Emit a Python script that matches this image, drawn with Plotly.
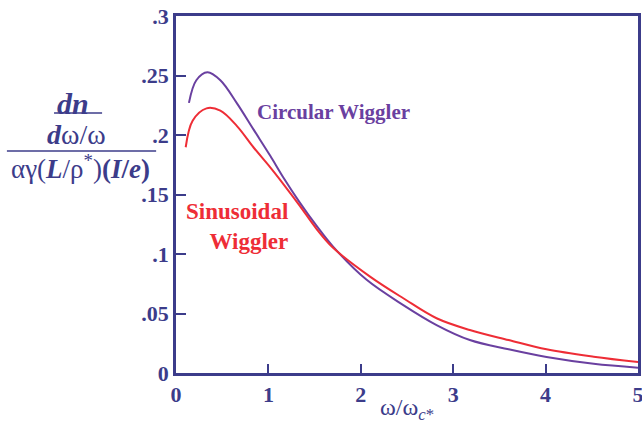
import plotly.graph_objects as go

# Data
x_circ = [0.14, 0.22, 0.34, 0.48, 0.66, 0.84, 1.02, 1.16, 1.34, 1.52, 1.70, 2.06, 2.46, 2.82, 3.18, 3.60, 4.01, 4.52, 5.0]
y_circ = [0.227, 0.246, 0.2527, 0.246, 0.2266, 0.2045, 0.1825, 0.1645, 0.1432, 0.1238, 0.1062, 0.0785, 0.0571, 0.0403, 0.0277, 0.0199, 0.0135, 0.0078, 0.0045]

x_sin = [0.105, 0.18, 0.33, 0.48, 0.66, 0.84, 1.02, 1.16, 1.34, 1.52, 1.70, 2.10, 2.46, 2.82, 3.18, 3.60, 4.01, 4.52, 5.0]
y_sin = [0.1897, 0.212, 0.2224, 0.2205, 0.2075, 0.1895, 0.1728, 0.159, 0.1405, 0.1212, 0.1052, 0.081, 0.0628, 0.046, 0.0361, 0.0277, 0.0199, 0.0137, 0.0092]

y_tickvals = [0, 0.05, 0.1, 0.15, 0.2, 0.25, 0.3]
y_ticktext = ["0", ".05", ".1", ".15", ".2", ".25", ".3"]
x_tickvals = [0, 1, 2, 3, 4, 5]
x_ticktext = ["0", "1", "2", "3", "4", "5"]

AX = "#3c3c8a"
PURPLE = "#6a40a0"
RED = "#ee2d36"
FONT = "Liberation Serif"

fig = go.Figure()
fig.add_trace(go.Scatter(x=x_circ, y=y_circ, mode="lines", line=dict(color=PURPLE, width=2, shape="spline", smoothing=1.0), showlegend=False))
fig.add_trace(go.Scatter(x=x_sin, y=y_sin, mode="lines", line=dict(color=RED, width=2, shape="spline", smoothing=1.0), showlegend=False))

fig.update_layout(
    width=642, height=427,
    margin=dict(l=176, r=4, t=16, b=54, autoexpand=False),
    paper_bgcolor="white", plot_bgcolor="white",
    font=dict(family=FONT, color=AX, size=20),
    xaxis=dict(range=[0, 5], tickvals=x_tickvals, ticktext=x_ticktext, automargin=False,
               ticks="inside", ticklen=9, tickwidth=1.5, tickcolor=AX, ticklabeloverflow="allow",
               showline=True, linecolor=AX, linewidth=2.5, mirror=True,
               showgrid=False, zeroline=False,
               tickfont=dict(family=FONT, size=22, color=AX, weight="bold")),
    yaxis=dict(range=[0, 0.3], tickvals=y_tickvals, ticktext=y_ticktext, automargin=False,
               ticks="inside", ticklen=10, tickwidth=1.5, tickcolor=AX, ticklabeloverflow="allow",
               showline=True, linecolor=AX, linewidth=2.5, mirror=True,
               showgrid=False, zeroline=False,
               tickfont=dict(family=FONT, size=22, color=AX, weight="bold")),
)

# x axis title
fig.add_annotation(xref="paper", yref="paper", x=0.5, y=-0.1, yanchor="middle",
                   text="ω/ω<sub><i>c</i>*</sub>", showarrow=False,
                   font=dict(family=FONT, size=24, color=AX))

# y axis title as a fraction
fig.add_annotation(xref="paper", yref="paper", x=-0.222, y=0.755, xanchor="center", yanchor="middle",
                   text="<b><i>dn</i></b>", showarrow=False, font=dict(family=FONT, size=30, color=AX))
fig.add_annotation(xref="paper", yref="paper", x=-0.215, y=0.667, xanchor="center", yanchor="middle",
                   text="<b><i>d</i></b>ω/ω", showarrow=False, font=dict(family=FONT, size=28, color=AX))
fig.add_annotation(xref="paper", yref="paper", x=-0.207, y=0.578, xanchor="center", yanchor="middle",
                   text="αγ(<b><i>L</i></b>/ρ<sup>*</sup>)<b>(<i>I</i>/<i>e</i>)</b>", showarrow=False,
                   font=dict(family=FONT, size=27, color=AX))
fig.add_shape(type="line", xref="paper", yref="paper", x0=-0.264, x1=-0.160, y0=0.728, y1=0.728,
              line=dict(color=AX, width=1.5))
fig.add_shape(type="line", xref="paper", yref="paper", x0=-0.366, x1=-0.043, y0=0.622, y1=0.622,
              line=dict(color=AX, width=1.5))

# series labels
fig.add_annotation(x=0.86, y=0.219, xanchor="left", yanchor="middle", text="<b>Circular Wiggler</b>",
                   showarrow=False, font=dict(family=FONT, size=21, color=PURPLE))
fig.add_annotation(x=1.235, y=0.1235, xanchor="right", yanchor="middle", align="right",
                   text="<b>Sinusoidal<br>Wiggler</b>", showarrow=False,
                   font=dict(family=FONT, size=23, color=RED))

fig.write_html("out.html", config={"displayModeBar": False},
               post_script="document.body.style.margin='0';document.body.style.overflow='hidden';")
